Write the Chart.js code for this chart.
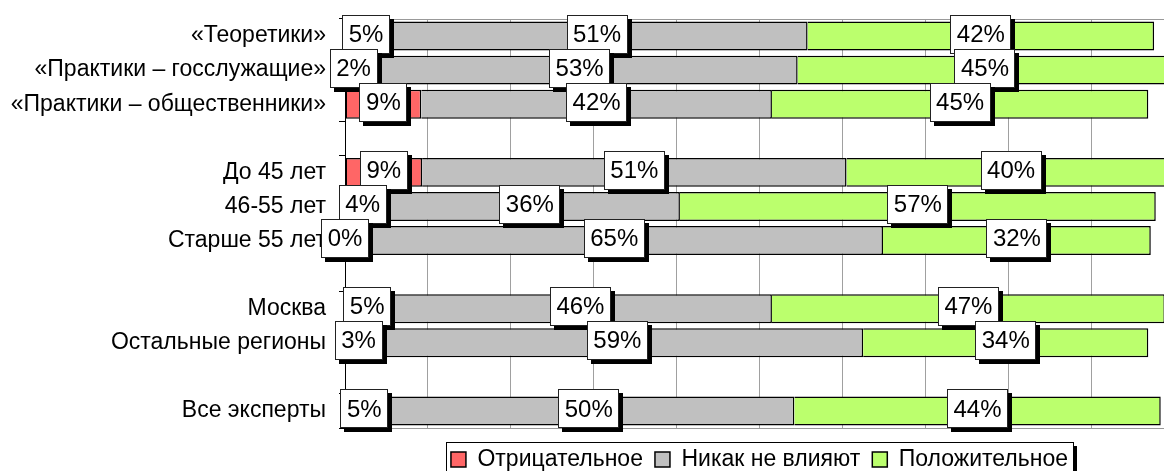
<!DOCTYPE html>
<html>
<head>
<meta charset="utf-8">
<title>Влияние на работу экспертов</title>
<script src="https://cdn.jsdelivr.net/npm/chart.js@4.4.1/dist/chart.umd.min.js"></script>
<style>
    html, body { margin: 0; padding: 0; overflow: hidden; background: #fff; }
    #wrap { width: 1164px; height: 471px; overflow: hidden; }
</style>
</head>
<body>
<div id="wrap"><canvas id="chart" width="1180" height="481"></canvas></div>
<script>
// categories, blank rows separate the groups
const categories = ['«Теоретики»', '«Практики – госслужащие»', '«Практики – общественники»', '',
    'До 45 лет', '46-55 лет', 'Старше 55 лет', '',
    'Москва', 'Остальные регионы', '',
    'Все эксперты'];

// shares in %
const negative = [5.0, 2.0, 9.2, null, 9.3, 4.2, 0, null, 5.3, 3.2, null, 4.6];
const neutral  = [50.8, 52.6, 42.3, null, 51.2, 36.2, 64.9, null, 46.2, 59.3, null, 49.6];
const positive = [41.8, 45.2, 45.4, null, 39.7, 57.4, 32.3, null, 47.4, 34.4, null, 44.2];

const seriesNames = ['Отрицательное', 'Никак не влияют', 'Положительное'];
const seriesColors = ['#ff6666', '#c0c0c0', '#bbff6d'];

const FONT = '"Liberation Sans", Arial, sans-serif';
Chart.defaults.font.family = FONT;
Chart.defaults.color = '#000';

// white boxes with a black shadow for the values
const valueBoxes = {
    id: 'valueBoxes',
    afterDatasetsDraw(chart) {
        const ctx = chart.ctx;
        ctx.save();
        ctx.font = '24px ' + FONT;
        ctx.textAlign = 'center';
        ctx.textBaseline = 'middle';
        chart.data.datasets.forEach((ds, i) => {
            chart.getDatasetMeta(i).data.forEach((bar, j) => {
                const v = ds.data[j];
                if (v === null) return;
                const p = bar.getProps(['x', 'y', 'base'], true);
                const cx = (p.x + p.base) / 2;
                const cy = p.y - 2;
                const text = Math.round(v) + '%';
                const w = Math.round(ctx.measureText(text).width + 13);
                const h = 39;
                const left = Math.round(cx - w / 2);
                const top = Math.round(cy - h / 2);
                ctx.fillStyle = '#000';
                ctx.fillRect(left + 4, top + 4, w, h);
                ctx.fillStyle = '#fff';
                ctx.fillRect(left, top, w, h);
                ctx.strokeStyle = '#222';
                ctx.lineWidth = 1;
                ctx.strokeRect(left + 0.5, top + 0.5, w - 1, h - 1);
                ctx.fillStyle = '#000';
                ctx.fillText(text, cx, cy + 1);
            });
        });
        ctx.restore();
    }
};

// top edge of the plot and the framed legend
const frame = {
    id: 'frame',
    afterLayout(chart) {
        const lg = chart.legend;
        const a = chart.chartArea;
        const shift = (a.left + a.right - lg.left - lg.right) / 2;
        lg.left += shift;
        lg.right += shift;
    },
    beforeDatasetsDraw(chart) {
        const ctx = chart.ctx;
        const a = chart.chartArea;
        ctx.save();
        ctx.strokeStyle = '#999';
        ctx.lineWidth = 1;
        ctx.beginPath();
        ctx.moveTo(a.left, Math.round(a.top) + 0.5);
        ctx.lineTo(a.right, Math.round(a.top) + 0.5);
        ctx.stroke();
        ctx.restore();
    },
    afterDraw(chart) {
        const boxes = chart.legend.legendHitBoxes;
        if (!boxes || !boxes.length) return;
        const ctx = chart.ctx;
        const first = boxes[0], last = boxes[boxes.length - 1];
        const left = Math.round(first.left - 5);
        const right = Math.round(last.left + last.width + 5);
        const top = Math.round(first.top - 6);
        const bottom = chart.height + 20;
        ctx.save();
        ctx.fillStyle = '#000';
        ctx.fillRect(right, top + 4, 4, bottom - top);
        ctx.strokeStyle = '#000';
        ctx.lineWidth = 1;
        ctx.strokeRect(left + 0.5, top + 0.5, right - left, bottom - top);
        ctx.restore();
    }
};

new Chart(document.getElementById('chart'), {
    type: 'bar',
    data: {
        labels: categories,
        datasets: [negative, neutral, positive].map((values, i) => ({
            label: seriesNames[i],
            data: values,
            backgroundColor: seriesColors[i],
            borderColor: '#000',
            borderWidth: 1.5,
            borderSkipped: i === 0 ? false : 'start',
            barPercentage: 0.85,
            categoryPercentage: 1
        }))
    },
    options: {
        indexAxis: 'y',
        responsive: false,
        animation: false,
        layout: { padding: { top: 19, right: 6, left: 0, bottom: 0 } },
        scales: {
            x: {
                stacked: true,
                min: 0,
                max: 100,
                ticks: { display: false, stepSize: 10 },
                grid: { color: '#a0a0a0', lineWidth: 1, drawTicks: false },
                border: { display: true, color: '#999' },
                afterFit(s) { s.height = 8; }
            },
            y: {
                stacked: true,
                ticks: { font: { size: 23 }, color: '#000', padding: 13, autoSkip: false },
                grid: { drawOnChartArea: false, tickLength: 6, color: '#000', offset: true },
                border: { display: true, color: '#000', width: 1 },
                afterFit(s) {
                    s.width = 345;
                    s.paddingTop = 0;
                    s.paddingBottom = 0;
                }
            }
        },
        plugins: {
            legend: {
                position: 'bottom',
                labels: {
                    font: { size: 23 },
                    color: '#000',
                    boxWidth: 15,
                    boxHeight: 15,
                    padding: 12
                }
            },
            tooltip: { enabled: false }
        }
    },
    plugins: [valueBoxes, frame]
});
</script>
</body>
</html>
